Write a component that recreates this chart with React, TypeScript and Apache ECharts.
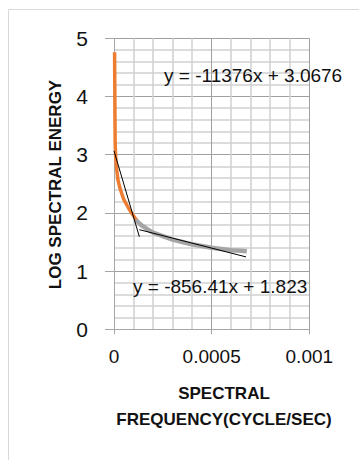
import React, { useEffect, useRef } from "react";
import * as echarts from "echarts";

const orangeX = [0.000003, 0.000004, 0.000005, 0.000006, 0.000008, 0.000012, 0.00002, 0.00003, 0.00004, 0.00005, 0.00006, 0.00007, 0.00008, 0.00009, 0.0001, 0.00011, 0.00012];
const orangeY = [4.76, 4.2, 3.6, 3.2, 3.0, 2.8, 2.57, 2.43, 2.33, 2.23, 2.17, 2.11, 2.05, 2.0, 1.95, 1.9, 1.86];

const grayX = [0.00011, 0.00014, 0.00017, 0.0002, 0.00025, 0.0003, 0.00035, 0.0004, 0.00045, 0.0005, 0.00055, 0.0006, 0.00065, 0.00068];
const grayY = [1.88, 1.79, 1.72, 1.66, 1.6, 1.54, 1.5, 1.46, 1.43, 1.4, 1.38, 1.36, 1.35, 1.34];

const trend1 = { slope: -11376, intercept: 3.0676, from: 0, to: 0.00013, label: "y = -11376x + 3.0676" };
const trend2 = { slope: -856.41, intercept: 1.823, from: 0.00013, to: 0.000676, label: "y = -856.41x + 1.823" };

const xTickLabels = ["0", "0.0005", "0.001"];
const yTitle = "LOG SPECTRAL ENERGY";
const xTitle1 = "SPECTRAL";
const xTitle2 = "FREQUENCY(CYCLE/SEC)";

const FONT = "'Liberation Sans', Arial, sans-serif";

export default function App() {
  const ref = useRef<HTMLDivElement>(null);
  useEffect(() => {
    if (!ref.current) return;
    const chart = echarts.init(ref.current, undefined, { renderer: "svg" });
    const trendData = (t: typeof trend1) => [
      [t.from, t.intercept + t.slope * t.from],
      [t.to, t.intercept + t.slope * t.to],
    ];
    chart.setOption({
      animation: false,
      backgroundColor: "#fff",
      grid: { left: 114, top: 38.3, right: 49.7, bottom: 130.7, containLabel: false },
      xAxis: {
        type: "value",
        min: 0,
        max: 0.001,
        interval: 0.0005,
        axisLine: { show: true, onZero: false, lineStyle: { color: "#a6a6a6", width: 1 } },
        axisTick: { show: true, inside: false, length: 5, lineStyle: { color: "#a6a6a6" } },
        minorTick: { show: false, splitNumber: 5 },
        splitLine: { show: true, lineStyle: { color: "#a0a0a0", width: 1 } },
        minorSplitLine: { show: true, lineStyle: { color: "#d0d0d0", width: 1.5 } },
        axisLabel: {
          margin: 18,
          fontSize: 19,
          fontFamily: FONT,
          color: "#111",
          formatter: (v: number) => {
            const i = Math.round(v / 0.0005);
            return xTickLabels[i] ?? String(v);
          },
        },
      },
      yAxis: {
        type: "value",
        min: 0,
        max: 5,
        interval: 1,
        axisLine: { show: true, lineStyle: { color: "#a6a6a6", width: 1 } },
        axisTick: { show: true, inside: false, length: 9, lineStyle: { color: "#a6a6a6" } },
        minorTick: { show: false, splitNumber: 5 },
        splitLine: { show: true, lineStyle: { color: "#a0a0a0", width: 1 } },
        minorSplitLine: { show: true, lineStyle: { color: "#d0d0d0", width: 1.5 } },
        axisLabel: { margin: 26, fontSize: 21, fontFamily: FONT, color: "#111" },
      },
      series: [
        {
          type: "line",
          data: orangeX.map((x, i) => [x, orangeY[i]]),
          showSymbol: false,
          symbol: "none",
          lineStyle: { color: "#ED7D31", width: 3.5 },
          z: 2,
        },
        {
          type: "line",
          data: grayX.map((x, i) => [x, grayY[i]]),
          showSymbol: false,
          symbol: "none",
          lineStyle: { color: "#A5A5A5", width: 4.5 },
          z: 3,
        },
        {
          type: "line",
          data: trendData(trend1),
          showSymbol: false,
          symbol: "none",
          lineStyle: { color: "#000", width: 1 },
          z: 4,
        },
        {
          type: "line",
          data: trendData(trend2),
          showSymbol: false,
          symbol: "none",
          lineStyle: { color: "#000", width: 1 },
          z: 4,
        },
      ],
      graphic: [
        {
          type: "rect",
          silent: true,
          shape: { x: 8.5, y: 9.5, width: 420, height: 520 },
          style: { fill: "none", stroke: "#d9d9d9", lineWidth: 1 },
          z: -10,
        },
        {
          type: "text",
          x: 164,
          y: 75,
          style: { text: trend1.label, fontSize: 19, fontFamily: FONT, fill: "#111", textAlign: "left", textVerticalAlign: "middle" },
          z: 10,
        },
        {
          type: "text",
          x: 133,
          y: 286,
          style: { text: trend2.label, fontSize: 19, fontFamily: FONT, fill: "#111", textAlign: "left", textVerticalAlign: "middle" },
          z: 10,
        },
        {
          type: "text",
          x: 55,
          y: 184.5,
          rotation: Math.PI / 2,
          style: { text: yTitle, fontSize: 17, fontWeight: "bold", fontFamily: FONT, fill: "#111", textAlign: "center", textVerticalAlign: "middle" },
          z: 10,
        },
        {
          type: "text",
          x: 224,
          y: 393,
          style: { text: xTitle1, fontSize: 17, fontWeight: "bold", fontFamily: FONT, fill: "#111", textAlign: "center", textVerticalAlign: "middle" },
          z: 10,
        },
        {
          type: "text",
          x: 224,
          y: 419,
          style: { text: xTitle2, fontSize: 17, fontWeight: "bold", fontFamily: FONT, fill: "#111", textAlign: "center", textVerticalAlign: "middle" },
          z: 10,
        },
      ],
    });
    return () => chart.dispose();
  }, []);
  return <div ref={ref} style={{ position: "absolute", left: 0, top: 0, width: 359, height: 460 }} />;
}
